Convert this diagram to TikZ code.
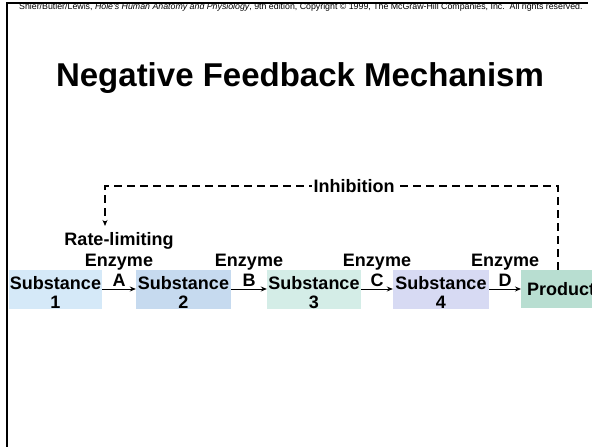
\documentclass[tikz,border=0pt]{standalone}
\usepackage{fontspec}
\setmainfont{Liberation Sans}
\usetikzlibrary{arrows.meta}
\definecolor{sub1}{HTML}{D5E9F8}
\definecolor{sub2}{HTML}{C6DAEF}
\definecolor{sub3}{HTML}{D4EDE7}
\definecolor{sub4}{HTML}{D7DAF3}
\definecolor{prodcol}{HTML}{B8DED1}

\begin{document}
\begin{tikzpicture}[x=1pt,y=-1pt,
	subst/.style={fill=#1, minimum height=38pt, inner sep=0pt, text height=39pt, text depth=0pt, align=center, font=\fontsize{18}{19.5}\selectfont\bfseries},
	enz/.style={above=2pt, inner sep=0pt, text depth=0pt, align=center, font=\fontsize{18}{20.5}\selectfont\bfseries},
	arr/.style={-{Stealth[length=6pt,width=5pt]}, line width=1pt},
	inhib/.style={dash pattern=on 8pt off 5pt, line width=1.1pt}]
	\path[use as bounding box, clip] (0,0) rectangle (592,447);
	\fill[white] (0,0) rectangle (592,447);		%page
	\draw[line width=2pt] (7,447) -- (7,3) -- (588,3);	%frame, left and top
	\node[anchor=base west, inner sep=0pt, font=\fontsize{8.8}{9}\selectfont] (hdr) at (19,9.5)
		{Shier/Butler/Lewis, \textit{Hole's Human Anatomy and Physiology}, 9th edition, Copyright \textcopyright{} 1999, The McGraw-Hill Companies, Inc.\ \ All rights reserved.};
	\node[anchor=base, inner sep=0pt, font=\fontsize{33}{33}\selectfont\bfseries] (title) at (300,86) {Negative Feedback Mechanism};
	
	\foreach \i/\x/\w in {1/55.5/93, 2/183.5/95, 3/314/94, 4/441/96}{
		\node[subst=sub\i, minimum width=\w pt] (s\i) at (\x,289) {Substance\\\i};	%substance boxes
	}
	\node[subst=prodcol, anchor=west, text height=13pt, text width=80pt, inner xsep=6pt, align=left] (prod) at (521,289) {Product};
	
	\draw[arr] (s1) -- node[enz] (enzA) {Rate-limiting\\Enzyme\\A} (s2);	%first step
	\foreach \i/\j/\l in {2/3/B, 3/4/C}{
		\draw[arr] (s\i) -- node[enz] (enz\l) {Enzyme\\\l} (s\j);
	}
	\draw[arr] (s4) -- node[enz] (enzD) {Enzyme\\D} (prod);
	
	\coordinate (bend) at (105,186);	%upper left corner of the loop
	\draw[inhib, -{Stealth[length=6pt,width=5pt]}, shorten >=6pt] ([xshift=37pt]prod.north west) |- node[pos=0.725, fill=white, inner sep=1.5pt, font=\fontsize{18}{18}\selectfont\bfseries] (inh) {Inhibition} (bend) -- (bend |- enzA.north);
\end{tikzpicture}
\end{document}
